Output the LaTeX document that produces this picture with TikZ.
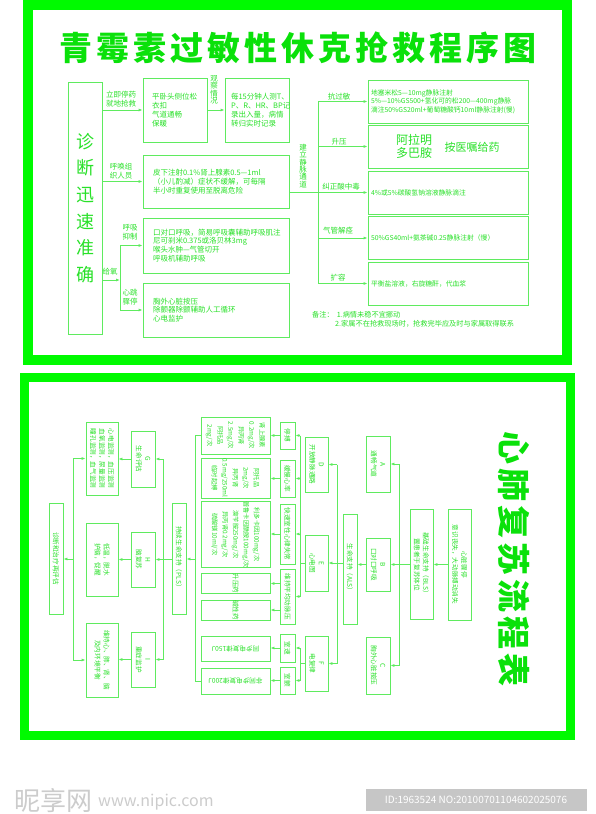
\documentclass[tikz,border=0pt]{standalone}
\usepackage{fontspec}
\setmainfont{Noto Sans CJK SC}
\usepackage{graphicx}
\usetikzlibrary{arrows.meta, positioning}
\definecolor{framec}{RGB}{0,250,0}
\definecolor{titlec}{RGB}{10,225,10}
\definecolor{inkc}{RGB}{40,225,40}
\definecolor{wirec}{RGB}{95,235,95}
\newcommand{\fz}[2]{\fontsize{#1}{#2}\selectfont}
\tikzstyle{every node}=[text=inkc,inner sep=0pt]
\tikzstyle{box}=[draw=wirec,line width=0.8pt,align=center]
\tikzstyle{tbox}=[box,align=left,font=\fz{7.5}{8.8}]
\tikzstyle{rbox}=[box,align=left,font=\fz{6.8}{8.6},minimum width=160,minimum height=43,text width=154]
\tikzstyle{vbox}=[box,rotate=-90,font=\fz{6.6}{9}]
\tikzstyle{lbl}=[align=center,font=\fz{7.5}{8.5}]
\tikzstyle{link}=[draw=wirec,line width=0.8pt]

\begin{document}
\begin{tikzpicture}[x=1pt,y=-1pt,>={Latex[length=4pt,width=3pt]}]
\useasboundingbox (0,0) rectangle (595,814);
\fill[white] (0,0) rectangle (595,814);

% frames
\draw[framec,line width=10pt] (27.5,5) rectangle (567,360);
\draw[framec,line width=9pt] (24.5,377.5) rectangle (570.5,735.5);

% ---------- upper chart ----------
\node[text=titlec,font=\fz{33}{33}\bfseries] (title) at (298,48)
  {青\hspace{4pt}霉\hspace{4pt}素\hspace{4pt}过\hspace{4pt}敏\hspace{4pt}性\hspace{4pt}休\hspace{4pt}克\hspace{4pt}抢\hspace{4pt}救\hspace{4pt}程\hspace{4pt}序\hspace{4pt}图};

\node[box,minimum width=34,minimum height=252,font=\fz{18}{26.6}] (diag) at (85,208) {诊\\断\\迅\\速\\准\\确};

\node[tbox,minimum width=64,minimum height=64,text width=46] (pos) at (175,110) {平卧头侧位松\\衣扣\\气道通畅\\保暖};
\node[tbox,minimum width=64,minimum height=64,text width=52] (obs) at (257,110) {每15分钟人测T、\\P、R、HR、BP记\\录出入量，病情\\转归实时记录};
\node[tbox,minimum width=146,minimum height=53,text width=126] (inj) at (216,181.5) {皮下注射0.1\%肾上腺素0.5—1ml\\（小儿酌减）症状不缓解，可每隔\\半小时重复使用至脱离危险};
\node[tbox,minimum width=146,minimum height=55,text width=126] (resp) at (216,245.5) {口对口呼吸，简易呼吸囊辅助呼吸肌注\\尼可刹米0.375或洛贝林3mg\\喉头水肿—气管切开\\呼吸机辅助呼吸};
\node[tbox,minimum width=146,minimum height=54,text width=126] (card) at (216,310) {胸外心脏按压\\除颤器除颤辅助人工循环\\心电监护};

\node[rbox] (r1) at (448,101.5) {地塞米松5—10mg静脉注射\\5\%—10\%GS500+氢化可的松200—400mg静脉\\滴注50\%GS20ml+葡萄糖酸钙10ml静脉注射(慢)};
\node[rbox] (r2) at (448,146.5) {};
\node[font=\fz{12}{13.5},align=center] (drug) at (414,146.5) {阿拉明\\多巴胺};
\node[font=\fz{11}{11}] (order) at (472,147) {按医嘱给药};
\node[rbox] (r3) at (448,192.5) {4\%或5\%碳酸氢钠溶液静脉滴注};
\node[rbox] (r4) at (448,238) {50\%GS40ml+氨茶碱0.25静脉注射（慢）};
\node[rbox] (r5) at (448,283.5) {平衡盐溶液，右旋糖酐，代血浆};

\node[lbl] (l1) at (121,99) {立即停药\\就地抢救};
\node[lbl] (l2) at (121,171) {呼唤组\\织人员};
\node[lbl,font=\fz{7.5}{7.5}] (l3) at (214,90) {观\\察\\情\\况};
\node[lbl,font=\fz{7.5}{7.4}] (l4) at (303,166) {建\\立\\静\\脉\\通\\道};
\node[lbl] (l5) at (110,272) {给氧};
\node[lbl] (l6) at (130,232) {呼吸\\抑制};
\node[lbl] (l7) at (130,297) {心跳\\骤停};
\node[lbl] (k1) at (339,97) {抗过敏};
\node[lbl] (k2) at (339,142) {升压};
\node[lbl] (k3) at (341,187) {纠正酸中毒};
\node[lbl] (k4) at (338,231) {气管解痉};
\node[lbl] (k5) at (338,278) {扩容};

\draw[link,->] (diag.east |- pos.west) -- (pos.west);
\draw[link,->] (pos.east) -- (obs.west);
\draw[link,->] (diag.east |- inj.west) -- (inj.west);
\coordinate (split) at (120,280);
\draw[link,->] (diag.east |- split) -- (split);
\draw[link] (split |- resp.west) -- (split |- card.west);
\draw[link,->] (split |- resp.west) -- (resp.west);
\draw[link,->] (split |- card.west) -- (card.west);
\coordinate (trunk) at (318,192.5);
\draw[link] (inj.east |- trunk) -- (trunk);
\draw[link] (trunk |- r1.west) -- (trunk |- r5.west);
\foreach \r in {r1,r2,r3,r4,r5}
  \draw[link,->] (trunk |- \r.west) -- (\r.west);

\node[anchor=west,font=\fz{7.2}{8}] (note1) at (312,315) {备注：\hspace{3pt}1.病情未稳不宜挪动};
\node[anchor=west,font=\fz{7.2}{8}] (note2) at (335,324) {2.家属不在抢救现场时，抢救完毕应及时与家属取得联系};

% ---------- lower chart (turned) : north = right, south = left ----------
\node[text=titlec,font=\fz{33}{33}\bfseries,rotate=-90] (title2) at (514.5,559)
  {心\hspace{4pt}肺\hspace{4pt}复\hspace{4pt}苏\hspace{4pt}流\hspace{4pt}程\hspace{4pt}表};

\node[vbox,minimum width=111,minimum height=23] (arrest) at (459.5,564.5) {心脏骤停\\意识丧失，大动脉搏动消失};
\node[vbox,minimum width=110,minimum height=23] (bls) at (421.5,564.5) {基础生命支持（BLS）\\置患者于复苏体位};
\node[vbox,minimum width=56,minimum height=24] (boxA) at (378,464) {A\\通畅气道};
\node[vbox,minimum width=53,minimum height=24] (boxB) at (378,564.5) {B\\口对口呼吸};
\node[vbox,minimum width=57,minimum height=24] (boxC) at (378,665.5) {C\\胸外心脏按压};
\node[vbox,minimum width=110,minimum height=14] (als) at (350,569) {生命支持（ALS）};
\node[vbox,minimum width=55,minimum height=23] (boxD) at (316.5,464.5) {D\\开放静脉通路};
\node[vbox,minimum width=56,minimum height=23] (boxE) at (316.5,563) {E\\心电图};
\node[vbox,minimum width=55,minimum height=23] (boxF) at (316.5,663.5) {F\\电复律};

\node[vbox,minimum width=27,minimum height=15] (stop) at (287.5,435.5) {停搏};
\node[vbox,minimum width=37,minimum height=15] (slow) at (287.5,478.5) {缓慢心率};
\node[vbox,minimum width=60,minimum height=15] (fast) at (287.5,534) {快速室性心律失常};
\node[vbox,minimum width=55,minimum height=15] (map) at (287.5,596.5) {维持平均动脉压};
\node[vbox,minimum width=28,minimum height=15] (vt) at (287.5,648) {室速};
\node[vbox,minimum width=27,minimum height=15] (vf) at (287.5,680.5) {室颤};

\node[vbox,minimum width=37,minimum height=69,font=\fz{6.3}{10.5}] (m1) at (235.5,435.5) {肾上腺素\\0.2mg/次\\异丙肾\\2.5mg/次\\阿托品\\2mg/次};
\node[vbox,minimum width=40,minimum height=69,font=\fz{6.3}{10.5}] (m2) at (235.5,478) {阿托品\\2mg/次\\异丙肾\\0.5mg/250ml\\临时起搏};
\node[vbox,minimum width=63,minimum height=69,font=\fz{6.3}{10.5}] (m3) at (235.5,534.5) {利多卡因100mg/次\\普鲁卡因酰胺100mg/次\\溴苄胺250mg/次\\异丙肾0.2mg/次\\硫酸镁10ml/次};
\node[vbox,minimum width=17,minimum height=69] (m4) at (235.5,583.5) {升压药};
\node[vbox,minimum width=16,minimum height=69] (m5) at (235.5,610) {碱性药};
\node[box,minimum width=69,minimum height=25,font=\fz{6.6}{9}] (m6) at (235.5,648.5) {\rotatebox{180}{同步电复律150J}};
\node[box,minimum width=69,minimum height=26,font=\fz{6.6}{9}] (m7) at (235.5,681) {\rotatebox{180}{非同步电复律200J}};

\node[vbox,minimum width=111,minimum height=14] (pls) at (179,558.5) {持续生命支持（PLS）};
\node[vbox,minimum width=56,minimum height=24] (G) at (143,459) {G\\生命评估};
\node[vbox,minimum width=55,minimum height=24] (H) at (143,559.5) {H\\脑复苏};
\node[vbox,minimum width=55,minimum height=24] (I) at (143,659.5) {I\\重症监护};
\node[vbox,minimum width=73,minimum height=32] (mon) at (102,458.5) {心电监测，血压监测\\血氧监测，尿量监测\\瞳孔监测，血气监测};
\node[vbox,minimum width=73,minimum height=32] (brain) at (102,559.5) {低温，脱水\\护脑，促醒};
\node[vbox,minimum width=74,minimum height=32] (keep) at (102,660) {维持心、肺、肾、脑\\及内环境平衡};
\node[vbox,minimum width=111,minimum height=14] (reeval) at (56,558.5) {诊断和治疗再评估};

\draw[link,->] (arrest.south) -- (bls.north);
\coordinate (t1) at (399,564.5);
\draw[link] (bls.south) -- (t1);
\draw[link] (t1 |- boxA.north) -- (t1 |- boxC.north);
\foreach \b in {boxA,boxB,boxC}
  \draw[link,->] (t1 |- \b.north) -- (\b.north);
\draw[link,->] (boxB.south) -- (boxB.south -| als.north);
\coordinate (t2) at (337,563);
\draw[link] (als.south |- t2) -- (t2);
\draw[link] (t2 |- boxD.north) -- (t2 |- boxF.north);
\foreach \b in {boxD,boxE,boxF}
  \draw[link,->] (t2 |- \b.north) -- (\b.north);
\coordinate (t3) at (300,563);
\draw[link] (boxE.south) -- (t3);
\draw[link] (t3 |- stop.north) -- (t3 |- map.north);
\foreach \b in {stop,slow,fast,map}
  \draw[link,->] (t3 |- \b.north) -- (\b.north);
\coordinate (t4) at (300,663.5);
\draw[link] (boxF.south) -- (t4);
\draw[link] (t4 |- vt.north) -- (t4 |- vf.north);
\foreach \b in {vt,vf}
  \draw[link,->] (t4 |- \b.north) -- (\b.north);
\draw[link,->] (stop.south) -- (stop.south -| m1.north);
\draw[link,->] (slow.south) -- (slow.south -| m2.north);
\draw[link,->] (fast.south) -- (fast.south -| m3.north);
\draw[link,->] (map.south |- m4.north) -- (m4.north);
\draw[link,->] (map.south |- m5.north) -- (m5.north);
\draw[link,->] (vt.south) -- (vt.south -| m6.east);
\draw[link,->] (vf.south) -- (vf.south -| m7.east);
\coordinate (t5) at (195,559);
\draw[link] (m1.south) -- (m1.south -| t5) -- (m7.west -| t5) -- (m7.west);
\draw[link,->] (t5) -- (t5 -| pls.north);
\coordinate (t6) at (163,559);
\draw[link] (pls.south |- t6) -- (t6);
\draw[link] (t6 |- G.north) -- (t6 |- I.north);
\foreach \b in {G,H,I}
  \draw[link,->] (t6 |- \b.north) -- (\b.north);
\draw[link,->] (G.south) -- (G.south -| mon.north);
\draw[link,->] (H.south) -- (H.south -| brain.north);
\draw[link,->] (I.south) -- (I.south -| keep.north);
\coordinate (t7) at (73,559);
\draw[link] (t7 |- mon.south) -- (t7 |- keep.south);
\draw[link,->] (t7 |- mon.south) -- (mon.south);
\draw[link,->] (t7 |- keep.south) -- (keep.south);
\draw[link,->] (t7) -- (t7 -| reeval.north);

% watermark
\node[anchor=west,text=gray!40,font=\fz{26}{26}] (wm1) at (14,801) {昵享网};
\node[anchor=west,text=gray!40,font=\fz{16}{16}] (wm2) at (98,802) {www.nipic.com};
\node[fill=gray!45,text=white,minimum width=221,minimum height=22,font=\fz{10}{10}] (wm3) at (476,800) {ID:1963524 NO:20100701104602025076};
\end{tikzpicture}
\end{document}
